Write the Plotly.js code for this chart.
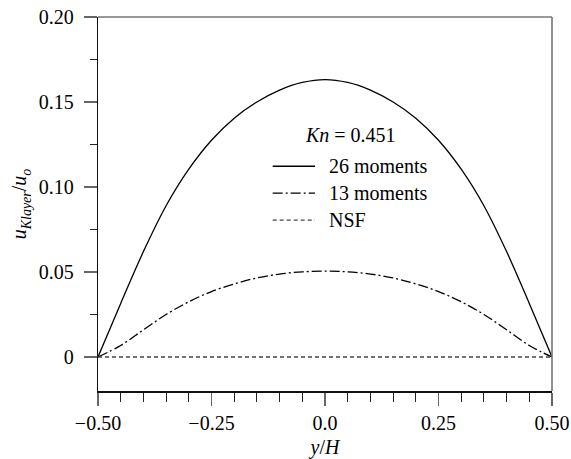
<!DOCTYPE html>
<html>
<head>
<meta charset="utf-8">
<script src="https://cdn.plot.ly/plotly-3.0.1.min.js"></script>
<style>
  html, body { margin: 0; padding: 0; background: #fff; }
  #chart { width: 571px; height: 459px; }
</style>
</head>
<body>
<div id="chart"></div>
<script>
// Channel position y/H across the gap
const yOverH = [-0.50, -0.45, -0.40, -0.35, -0.30, -0.25, -0.20, -0.15, -0.10, -0.05, 0.00,
                 0.05, 0.10, 0.15, 0.20, 0.25, 0.30, 0.35, 0.40, 0.45, 0.50];

// Knudsen-layer velocity u_Klayer/u_o at Kn = 0.451
const moments26 = [0, 0.0315, 0.0620, 0.0890, 0.1105, 0.1275, 0.1405, 0.1500, 0.1570, 0.1615, 0.1632,
                   0.1615, 0.1570, 0.1500, 0.1405, 0.1275, 0.1105, 0.0890, 0.0620, 0.0315, 0];
const moments13 = [0, 0.0068, 0.0160, 0.0250, 0.0325, 0.0385, 0.0430, 0.0465, 0.0488, 0.0501, 0.0505,
                   0.0501, 0.0488, 0.0465, 0.0430, 0.0385, 0.0325, 0.0250, 0.0160, 0.0068, 0];
const nsf       = [0, 0, 0, 0, 0, 0, 0, 0, 0, 0, 0,
                   0, 0, 0, 0, 0, 0, 0, 0, 0, 0];

const seriesNames = ['26 moments', '13 moments', 'NSF'];
const knLabel = '<i>Kn</i> = 0.451';

const xTickVals = [-0.5, -0.25, 0, 0.25, 0.5];
const xTickText = ['\u22120.50', '\u22120.25', '0.0', '0.25', '0.50'];
const yTickVals = [0, 0.05, 0.10, 0.15, 0.20];
const yTickText = ['0', '0.05', '0.10', '0.15', '0.20'];

const FONT = '"Liberation Serif", "Times New Roman", serif';
const DASHDOT = '10px,3px,2px,3px';
const DASHED = '4px,3px';

const traces = [
  { x: yOverH, y: moments26, name: seriesNames[0], mode: 'lines',
    line: { color: '#000', width: 1.3, shape: 'spline', smoothing: 1 } },
  { x: yOverH, y: moments13, name: seriesNames[1], mode: 'lines',
    line: { color: '#000', width: 1.3, dash: DASHDOT, shape: 'spline', smoothing: 1 } },
  { x: yOverH, y: nsf, name: seriesNames[2], mode: 'lines',
    line: { color: '#444', width: 1.3, dash: DASHED } }
];

// hand-built key inside the plot area
const keyRows = [
  { y: 0.601, dash: 'solid', color: '#000' },
  { y: 0.529, dash: DASHDOT, color: '#000' },
  { y: 0.457, dash: DASHED, color: '#444' }
];
const shapes = [
  // top and right frame edges
  { type: 'line', xref: 'paper', yref: 'paper', x0: 0, x1: 1, y0: 1, y1: 1,
    line: { color: '#777', width: 1.6 } },
  { type: 'line', xref: 'paper', yref: 'paper', x0: 1, x1: 1, y0: 0, y1: 1,
    line: { color: '#777', width: 1.6 } }
];
const annotations = [
  { xref: 'paper', yref: 'paper', x: 0.4515, y: 0.684, xanchor: 'left', yanchor: 'middle',
    text: knLabel, showarrow: false, font: { family: FONT, size: 20, color: '#000' } }
];
keyRows.forEach((r, i) => {
  shapes.push({ type: 'line', xref: 'paper', yref: 'paper', x0: 0.3848, x1: 0.478, y0: r.y, y1: r.y,
                line: { color: r.color, width: 1.3, dash: r.dash } });
  annotations.push({ xref: 'paper', yref: 'paper', x: 0.5037, y: r.y, xanchor: 'left', yanchor: 'middle',
                     text: seriesNames[i], showarrow: false,
                     font: { family: FONT, size: 20, color: '#000' } });
});

const layout = {
  width: 571, height: 459,
  margin: { l: 98, r: 19, t: 17, b: 68 },
  paper_bgcolor: '#fff', plot_bgcolor: '#fff',
  showlegend: false,
  font: { family: FONT, size: 20, color: '#000' },
  xaxis: {
    range: [-0.5, 0.5], showgrid: false, zeroline: false,
    showline: true, linecolor: '#111', linewidth: 1.6,
    ticks: 'outside', ticklen: 13, tickwidth: 1.3, tickcolor: '#666',
    tickvals: xTickVals, ticktext: xTickText, ticklabelstandoff: 0,
    tickfont: { family: FONT, size: 20 },
    minor: { tick0: 0, dtick: 0.05, ticks: 'outside', ticklen: 9, tickwidth: 1, tickcolor: '#222' },
    title: { text: '<i>y</i>/<i>H</i>', font: { family: FONT, size: 20 }, standoff: 22 }
  },
  yaxis: {
    range: [-0.02, 0.2], showgrid: false, zeroline: false,
    showline: true, linecolor: '#111', linewidth: 1.3,
    ticks: 'outside', ticklen: 13, tickwidth: 1.3, tickcolor: '#666',
    tickvals: yTickVals, ticktext: yTickText, ticklabelstandoff: 6,
    tickfont: { family: FONT, size: 20 },
    minor: { tick0: 0, dtick: 0.025, ticks: 'outside', ticklen: 7, tickwidth: 1, tickcolor: '#222' },
    title: { text: '<i>u</i><sub><i>Klayer</i></sub>/<i>u</i><sub><i>o</i></sub>',
             font: { family: FONT, size: 20 }, standoff: 6 }
  },
  shapes: shapes,
  annotations: annotations
};

Plotly.newPlot('chart', traces, layout, { displayModeBar: false, staticPlot: true });
</script>
</body>
</html>
